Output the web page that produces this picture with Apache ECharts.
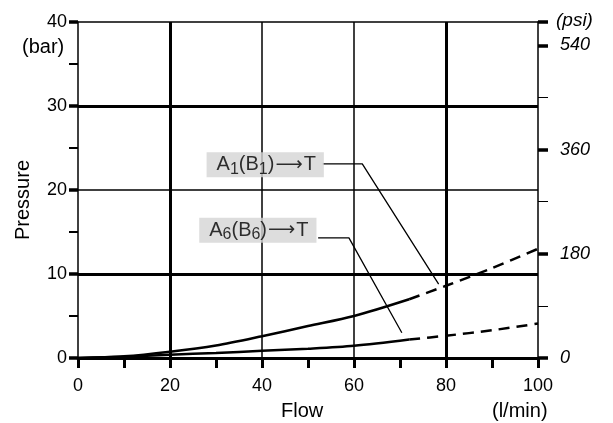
<!DOCTYPE html>
<html><head><meta charset="utf-8">
<script src="https://cdn.jsdelivr.net/npm/echarts@6/dist/echarts.min.js"></script>
<style>html,body{margin:0;padding:0;background:#fff}#c{width:613px;height:423px}</style>
</head><body><div id="c"></div>
<script>
// Data
const flowA1Solid = [0, 10, 20, 30, 40, 50, 60, 72];
const presA1Solid = [0, 0.2, 0.75, 1.5, 2.6, 3.8, 5.0, 7.0];
const flowA1Dash = [72, 80, 90, 100];
const presA1Dash = [7.0, 8.6, 10.7, 13.0];
const flowA6Solid = [0, 10, 20, 30, 40, 50, 60, 72];
const presA6Solid = [0, 0.15, 0.4, 0.6, 0.85, 1.1, 1.45, 2.2];
const flowA6Dash = [72, 80, 90, 100];
const presA6Dash = [2.2, 2.65, 3.3, 4.1];
const gridFlow = [20, 40, 60, 80];
const gridPres = [10, 20, 30, 40];
const labelA1 = {flow: 40.7, pres: 23.0};
const labelA6 = {flow: 39.1, pres: 15.2};
const leaderA1Flow = [53.2, 61.8, 78.4];
const leaderA1Pres = [23.1, 23.1, 8.8];
const leaderA6Flow = [52.2, 58.9, 70.4];
const leaderA6Pres = [14.3, 14.3, 3.0];
const barToPsi = 14.5038;

const zip = (a, b) => a.map((v, i) => [v, b[i]]);
const thick = {20: 3, 80: 3, 40: 1.5, 60: 1.5};
const thickY = {10: 3, 30: 3, 20: 1.5, 40: 1.5};
const FONT = 'Liberation Sans';
const FS = 18;
const TC = '#000';

const chart = echarts.init(document.getElementById('c'), null, {renderer: 'canvas'});
const lineCommon = {type: 'line', symbol: 'none', smooth: 0.3, silent: true, z: 5};
const rich = {
  t: {fontSize: 20, fontFamily: FONT, color: TC, lineHeight: 25},
  a: {fontSize: 19, fontFamily: 'DejaVu Sans', color: TC, lineHeight: 25, padding: [0, 1, 0, 1]},
  s: {fontSize: 16, fontFamily: FONT, color: TC, lineHeight: 25, verticalAlign: 'bottom', padding: [8, 0, 0, 0]}
};
chart.setOption({
  animation: false,
  grid: {left: 78, right: 75, top: 22, bottom: 65},
  xAxis: {
    type: 'value', min: 0, max: 100, interval: 10,
    axisLine: {lineStyle: {color: '#000', width: 3}},
    axisTick: {length: 10, lineStyle: {color: '#000', width: 3}},
    axisLabel: {fontSize: FS, fontFamily: FONT, color: TC, margin: 19,
      formatter: v => (v % 20 === 0 ? String(v) : '')},
    splitLine: {show: false}
  },
  yAxis: [{
    type: 'value', min: 0, max: 40, interval: 10, position: 'left',
    axisLine: {show: true, lineStyle: {color: '#000', width: 1.5}},
    axisTick: {show: true, length: 9, lineStyle: {color: '#000', width: 3.5}},
    minorTick: {show: true, splitNumber: 2, length: 9, lineStyle: {color: '#000', width: 2}},
    axisLabel: {fontSize: FS, fontFamily: FONT, color: TC, margin: 11},
    splitLine: {show: false}
  }, {
    type: 'value', min: 0, max: 40 * barToPsi, interval: 180, position: 'right',
    axisLine: {show: true, lineStyle: {color: '#000', width: 1.5}},
    axisTick: {show: true, length: 10, lineStyle: {color: '#000', width: 3.5}},
    minorTick: {show: true, splitNumber: 2, length: 10, lineStyle: {color: '#000', width: 1}},
    axisLabel: {fontSize: FS, fontFamily: FONT, fontStyle: 'italic', color: TC, margin: 22,
      showMaxLabel: false},
    splitLine: {show: false}
  }],
  series: [
    Object.assign({}, lineCommon, {
      data: zip(flowA1Solid, presA1Solid), lineStyle: {color: '#000', width: 2.5},
      markLine: {
        silent: true, symbol: 'none', label: {show: false}, z: 2,
        data: gridFlow.map(v => ({xAxis: v, lineStyle: {color: '#000', width: thick[v], type: 'solid'}}))
          .concat(gridPres.map(v => ({yAxis: v, lineStyle: {color: '#000', width: thickY[v], type: 'solid'}})))
      }
    }),
    Object.assign({}, lineCommon, {data: zip(flowA1Dash, presA1Dash), lineStyle: {color: '#000', width: 2.5, type: [11, 7]}}),
    Object.assign({}, lineCommon, {data: zip(flowA6Solid, presA6Solid), lineStyle: {color: '#000', width: 2.5}}),
    Object.assign({}, lineCommon, {data: zip(flowA6Dash, presA6Dash), lineStyle: {color: '#000', width: 2.5, type: [11, 7]}}),
    {type: 'line', symbol: 'none', silent: true, data: zip(leaderA1Flow, leaderA1Pres), lineStyle: {color: '#000', width: 1.3}},
    {type: 'line', symbol: 'none', silent: true, data: zip(leaderA6Flow, leaderA6Pres), lineStyle: {color: '#000', width: 1.3}},
    {
      type: 'scatter', symbolSize: 0, silent: true, z: 10,
      data: [[labelA1.flow, labelA1.pres], [labelA6.flow, labelA6.pres]],
      label: {
        show: true, position: 'inside', backgroundColor: '#d4d4d4', padding: [0, 8, 0, 10],
        formatter: p => p.dataIndex === 0 ? '{t|A}{s|1}{t|(B}{s|1}{t|)}{a|⟶}{t|T}' : '{t|A}{s|6}{t|(B}{s|6}{t|)}{a|⟶}{t|T}',
        rich: rich
      }
    }
  ],
  graphic: [
    {type: 'text', left: 22, top: 37, style: {text: '(bar)', font: '20px "Liberation Sans"', fill: TC}},
    {type: 'text', left: 556, top: 11, style: {text: '(psi)', font: 'italic 19px "Liberation Sans"', fill: TC}},
    {type: 'text', left: 281, top: 401, style: {text: 'Flow', font: '20px "Liberation Sans"', fill: TC}},
    {type: 'text', left: 492, top: 401, style: {text: '(l/min)', font: '20px "Liberation Sans"', fill: TC}},
    {type: 'text', left: 13, top: 160, rotation: Math.PI / 2, originX: 0, originY: 0,
      style: {text: 'Pressure', font: '20px "Liberation Sans"', fill: TC}}
  ]
});
</script></body></html>
